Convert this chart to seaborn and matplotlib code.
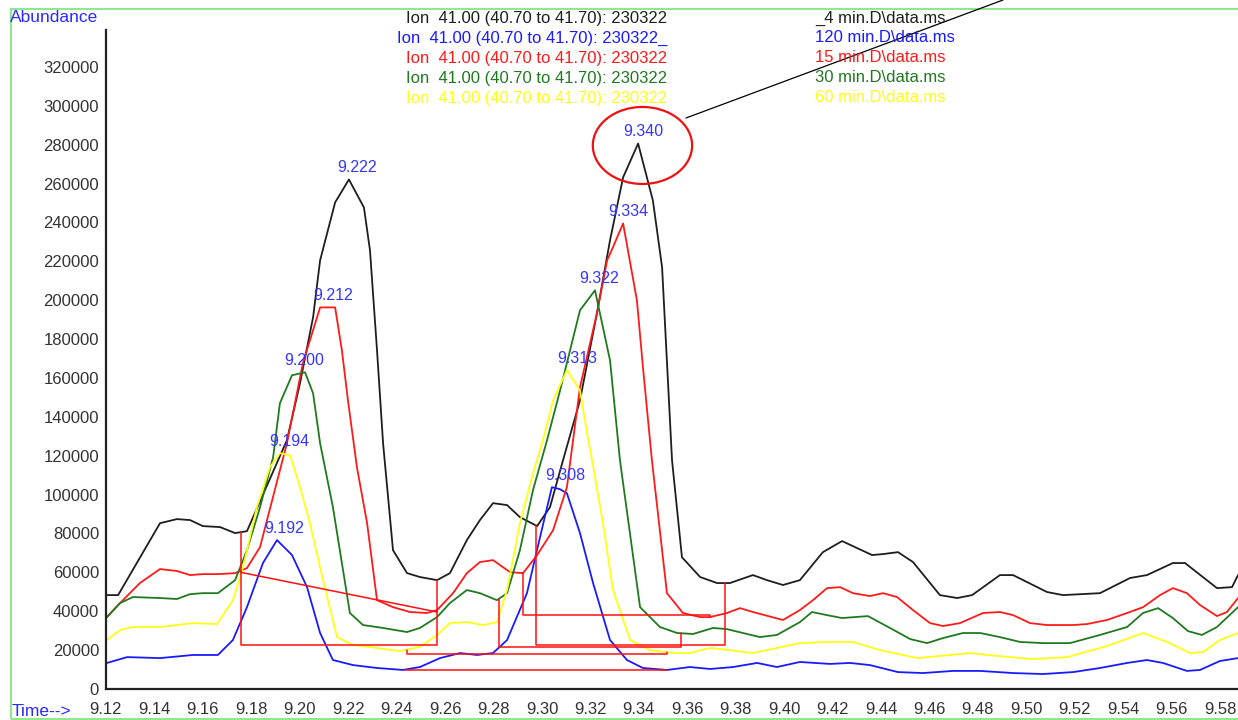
import numpy as np
import matplotlib
matplotlib.use("Agg")
import matplotlib.pyplot as plt
import seaborn as sns
from matplotlib.patches import Ellipse, Rectangle
from matplotlib.lines import Line2D
from matplotlib.ticker import MultipleLocator

# Ion 41.00 extracted chromatograms (time in min, abundance in counts)
t_4min = [9.1200, 9.1250, 9.1423, 9.1493, 9.1547, 9.1600, 9.1671, 9.1733, 9.1782, 9.1947,
          9.2001, 9.2055, 9.2084, 9.2146, 9.2203, 9.2265, 9.2290, 9.2319, 9.2344, 9.2385,
          9.2443, 9.2496, 9.2567, 9.2620, 9.2690, 9.2744, 9.2798, 9.2856, 9.2909, 9.2980,
          9.3033, 9.3087, 9.3157, 9.3227, 9.3281, 9.3335, 9.3397, 9.3458, 9.3496, 9.3537,
          9.3578, 9.3653, 9.3723, 9.3776, 9.3871, 9.3929, 9.3995, 9.4065, 9.4160, 9.4239,
          9.4301, 9.4363, 9.4408, 9.4470, 9.4532, 9.4643, 9.4714, 9.4776, 9.4891, 9.4945,
          9.5085, 9.5151, 9.5304, 9.5428, 9.5498, 9.5605, 9.5655, 9.5787, 9.5849, 9.5874]
ab_4min = [48300, 48300, 85300, 87400, 86900, 83800, 83300, 80200, 81200, 128000,
           157300, 191200, 220500, 250300, 262100, 247700, 225600, 174200, 126400, 71400,
           59600, 57600, 56000, 59600, 76600, 86900, 95600, 94600, 88400, 83800,
           93500, 117700, 148500, 193300, 230800, 263200, 280600, 251300, 216900, 117700,
           67800, 57600, 54500, 54500, 58600, 56000, 53500, 56000, 70400, 76100,
           72500, 68900, 69400, 70400, 65300, 48300, 46800, 48300, 58600, 58600,
           49900, 48300, 49300, 57100, 58600, 64800, 64800, 51900, 52400, 58600]

t_120min = [9.1204, 9.1287, 9.1423, 9.1559, 9.1662, 9.1724, 9.1782, 9.1848, 9.1906, 9.1968,
            9.2030, 9.2084, 9.2137, 9.2220, 9.2319, 9.2426, 9.2496, 9.2579, 9.2662, 9.2732,
            9.2798, 9.2856, 9.2938, 9.2992, 9.3041, 9.3074, 9.3103, 9.3157, 9.3211, 9.3281,
            9.3351, 9.3417, 9.3516, 9.3611, 9.3694, 9.3789, 9.3888, 9.3970, 9.4065, 9.4189,
            9.4272, 9.4354, 9.4470, 9.4573, 9.4697, 9.4809, 9.4945, 9.5069, 9.5193, 9.5304,
            9.5416, 9.5498, 9.5564, 9.5663, 9.5717, 9.5799, 9.5874]
ab_120min = [13400, 16400, 15900, 17500, 17500, 25200, 42100, 64800, 76600, 68900,
             52400, 28800, 14900, 12300, 10800, 9800, 11300, 15900, 18500, 17500,
             18500, 25200, 49300, 78100, 103800, 102800, 100700, 80200, 54500, 25200,
             14900, 10800, 9800, 11300, 10300, 11300, 13400, 11300, 13900, 12900,
             13400, 12300, 8700, 8200, 9300, 9300, 8200, 7700, 8700, 10800,
             13400, 14900, 13400, 9300, 9800, 14400, 15900]

t_15min = [9.1204, 9.1258, 9.1340, 9.1423, 9.1493, 9.1547, 9.1600, 9.1662, 9.1733, 9.1782,
           9.1836, 9.1947, 9.2013, 9.2084, 9.2146, 9.2174, 9.2199, 9.2236, 9.2278, 9.2319,
           9.2385, 9.2455, 9.2525, 9.2567, 9.2633, 9.2690, 9.2744, 9.2798, 9.2868, 9.2922,
           9.2980, 9.3046, 9.3103, 9.3157, 9.3227, 9.3269, 9.3293, 9.3335, 9.3392, 9.3417,
           9.3454, 9.3516, 9.3582, 9.3653, 9.3694, 9.3764, 9.3818, 9.3871, 9.3995, 9.4065,
           9.4119, 9.4177, 9.4231, 9.4284, 9.4354, 9.4408, 9.4466, 9.4532, 9.4602, 9.4656,
           9.4726, 9.4821, 9.4891, 9.4945, 9.5015, 9.5085, 9.5193, 9.5250, 9.5333, 9.5416,
           9.5482, 9.5552, 9.5605, 9.5663, 9.5717, 9.5787, 9.5828, 9.5874]
ab_15min = [37000, 44200, 54500, 61700, 60700, 58600, 59100, 59100, 59600, 62200,
            73000, 126400, 167600, 196300, 196300, 174200, 148500, 114100, 85300, 45700,
            42100, 39600, 39100, 40600, 49300, 59600, 65300, 66300, 60100, 59600,
            68900, 81700, 103800, 155200, 193300, 220500, 227200, 239500, 200000, 165500,
            117700, 49300, 39100, 37000, 37000, 39100, 41600, 39600, 35500, 40600,
            45700, 51900, 52400, 49300, 47800, 49300, 47300, 40600, 33900, 32400,
            33900, 39100, 39600, 38000, 33900, 32900, 32900, 33400, 35500, 39100,
            42100, 48300, 51900, 49300, 43200, 37500, 39600, 46800]

t_30min = [9.1204, 9.1258, 9.1311, 9.1423, 9.1493, 9.1547, 9.1600, 9.1662, 9.1733, 9.1782,
           9.1836, 9.1890, 9.1918, 9.1968, 9.2022, 9.2055, 9.2084, 9.2137, 9.2207, 9.2261,
           9.2344, 9.2443, 9.2496, 9.2567, 9.2620, 9.2690, 9.2744, 9.2814, 9.2856, 9.2909,
           9.2963, 9.3021, 9.3075, 9.3157, 9.3219, 9.3281, 9.3322, 9.3405, 9.3487, 9.3558,
           9.3624, 9.3706, 9.3764, 9.3830, 9.3900, 9.3970, 9.4065, 9.4115, 9.4177, 9.4239,
           9.4346, 9.4437, 9.4520, 9.4590, 9.4656, 9.4738, 9.4809, 9.4891, 9.4974, 9.5069,
           9.5180, 9.5304, 9.5416, 9.5482, 9.5544, 9.5605, 9.5667, 9.5725, 9.5787, 9.5874]
ab_30min = [37000, 44200, 47300, 46800, 46300, 48800, 49300, 49300, 56000, 71400,
            93500, 119200, 147000, 161400, 162900, 152100, 126400, 93500, 39100, 32900,
            31400, 29300, 31400, 37000, 44200, 50900, 49300, 45700, 49300, 71400,
            102300, 128000, 153700, 194800, 205100, 169100, 117700, 42100, 31900, 28800,
            28300, 31400, 30800, 28800, 26700, 27800, 34400, 39600, 38000, 36500,
            37500, 31400, 25700, 23600, 26200, 28800, 28800, 26700, 24200, 23600,
            23600, 27800, 31900, 39100, 41600, 36500, 29800, 27800, 31900, 42100]

t_60min = [9.1204, 9.1258, 9.1311, 9.1423, 9.1493, 9.1559, 9.1658, 9.1724, 9.1766, 9.1823,
           9.1877, 9.1918, 9.1960, 9.2001, 9.2042, 9.2096, 9.2154, 9.2220, 9.2319, 9.2414,
           9.2496, 9.2567, 9.2620, 9.2690, 9.2757, 9.2814, 9.2856, 9.2909, 9.2963, 9.3004,
           9.3046, 9.3103, 9.3157, 9.3186, 9.3207, 9.3252, 9.3293, 9.3364, 9.3446, 9.3541,
           9.3611, 9.3694, 9.3776, 9.3871, 9.3970, 9.4065, 9.4177, 9.4284, 9.4396, 9.4549,
           9.4643, 9.4767, 9.4879, 9.5027, 9.5168, 9.5333, 9.5482, 9.5581, 9.5676, 9.5729,
           9.5799, 9.5874]
ab_60min = [25200, 30300, 31900, 31900, 32900, 33900, 33400, 45700, 62700, 93500,
            114100, 121300, 120300, 103800, 85300, 56000, 26700, 22600, 21100, 19500,
            21600, 27800, 33900, 34400, 32900, 34400, 50900, 85300, 111000, 128000,
            148500, 164000, 153700, 131600, 117700, 85300, 50900, 25200, 20000, 18500,
            18500, 21100, 20000, 18500, 21100, 23600, 24200, 24200, 20000, 15900,
            17000, 18500, 17000, 15400, 16400, 22100, 28800, 24200, 18500, 19000,
            25200, 28800]

# legend / file order and colours
runs = ["4 min", "120 min", "15 min", "30 min", "60 min"]
run_colors = ["#1e1e1e", "#1a1aff", "#ff1a1a", "#1f7a1f", "#ffff14"]
legend_left = ["Ion  41.00 (40.70 to 41.70): 230322",
               "Ion  41.00 (40.70 to 41.70): 230322_",
               "Ion  41.00 (40.70 to 41.70): 230322",
               "Ion  41.00 (40.70 to 41.70): 230322",
               "Ion  41.00 (40.70 to 41.70): 230322"]
legend_right = [r"_4 min.D\data.ms", r"120 min.D\data.ms", r"15 min.D\data.ms",
                r"30 min.D\data.ms", r"60 min.D\data.ms"]

# peak apex labels (retention times) per run
peak_labels = [["9.222", "9.340"], ["9.192", "9.308"], ["9.212", "9.334"],
               ["9.200", "9.322"], ["9.194", "9.313"]]

# integration baselines: run, start, end, baseline level at start / end
base_run = ["4 min", "15 min", "4 min", "30 min", "15 min", "60 min", "120 min"]
base_start = [9.1757, 9.1757, 9.2974, 9.2822, 9.2922, 9.2443, 9.2434]
base_end = [9.2567, 9.2567, 9.3756, 9.3573, 9.3694, 9.3516, 9.3516]
base_lvl_start = [22600, 60000, 22600, 21600, 38000, 18000, 9800]
base_lvl_end = [22600, 39600, 22600, 21600, 38000, 18000, 9800]

data = {
    "4 min": (np.array(t_4min), np.array(ab_4min)),
    "120 min": (np.array(t_120min), np.array(ab_120min)),
    "15 min": (np.array(t_15min), np.array(ab_15min)),
    "30 min": (np.array(t_30min), np.array(ab_30min)),
    "60 min": (np.array(t_60min), np.array(ab_60min)),
}

sns.set_style("white")
plt.rcParams['font.family'] = ['Liberation Sans', 'DejaVu Sans']

W, H = 1238, 720
fig = plt.figure(figsize=(W / 100, H / 100), dpi=100)
ax = fig.add_axes([106 / W, 31 / H, (W - 106) / W, 659 / H])

for run, col in zip(runs, run_colors):
    t, v = data[run]
    sns.lineplot(x=t, y=v, color=col, linewidth=1.3, ax=ax)

# integration baselines in red
for run, t0, t1, b0, b1 in zip(base_run, base_start, base_end, base_lvl_start, base_lvl_end):
    t, v = data[run]
    y0 = np.interp(t0, t, v)
    y1 = np.interp(t1, t, v)
    ax.plot([t0, t0, t1, t1], [y0, b0, b1, y1], color="#ff1010", linewidth=1.1, zorder=5)

# apex labels
for run, labels in zip(runs, peak_labels):
    t, v = data[run]
    for lbl in labels:
        rt = float(lbl)
        apex = v[np.abs(t - rt) < 0.008].max()
        ax.annotate(lbl, xy=(rt, apex), xytext=(3, 3), textcoords="offset points",
                    ha="center", va="bottom", color="#3535ff", fontsize=11.5, zorder=6)

# red circle around the 9.340 peak
t, v = data["4 min"]
i_top = np.argmax(v)
ax.add_patch(Ellipse((t[i_top] + 0.0018, v[i_top] - 1000), 0.041, 39600,
                     fill=False, edgecolor="#ee1111", linewidth=1.6, zorder=7))

ax.set_xlim(9.12, 9.12 + (W - 106) / 2422)
ax.set_ylim(0, 339000)
xt = np.arange(9.12, 9.5801, 0.02)
ax.set_xticks(xt)
ax.set_xticklabels([f"{x:.2f}" for x in xt])
ax.xaxis.set_minor_locator(MultipleLocator(0.02 / 6))
yt = np.arange(0, 320001, 20000)
ax.set_yticks(yt)
ax.set_yticklabels([str(int(y)) for y in yt])
ax.tick_params(axis="x", which="major", direction="out", length=7, width=1.2,
               color="#222222", labelsize=12, labelcolor="#333333", pad=2)
ax.tick_params(axis="x", which="minor", direction="out", length=4, width=1.0, color="#222222")
ax.tick_params(axis="y", which="major", direction="out", length=4, width=1.2,
               color="#222222", labelsize=12, labelcolor="#333333", pad=1)
for side in ["top", "right"]:
    ax.spines[side].set_visible(False)
for side in ["left", "bottom"]:
    ax.spines[side].set_color("#222222")
    ax.spines[side].set_linewidth(1.6)
ax.set_xlabel("")
ax.set_ylabel("")


def fx(px):
    return px / W


def fy(py):
    return 1 - py / H


# header text
fig.text(fx(10), fy(18), "Abundance", color="#2a2aff", fontsize=12.5, ha="left", va="center")
fig.text(fx(12), fy(711), "Time-->", color="#2a2aff", fontsize=12.5, ha="left", va="center")
for i, (lt, rt, col) in enumerate(zip(legend_left, legend_right, run_colors)):
    y = 18 + 20 * i
    fig.text(fx(667), fy(y), lt, color=col, fontsize=12, ha="right", va="center")
    fig.text(fx(815), fy(y), rt, color=col, fontsize=12, ha="left", va="center")

# outer frame and pointer line
fig.add_artist(Rectangle((fx(11), fy(719)), 1.2, (719 - 9) / H, transform=fig.transFigure,
                         fill=False, edgecolor="#8fe88f", linewidth=1.5, clip_on=False))
fig.add_artist(Line2D([fx(686), fx(1003)], [fy(118), fy(0)], transform=fig.transFigure,
                      color="black", linewidth=0.9))

fig.savefig("out.png", dpi=100)
